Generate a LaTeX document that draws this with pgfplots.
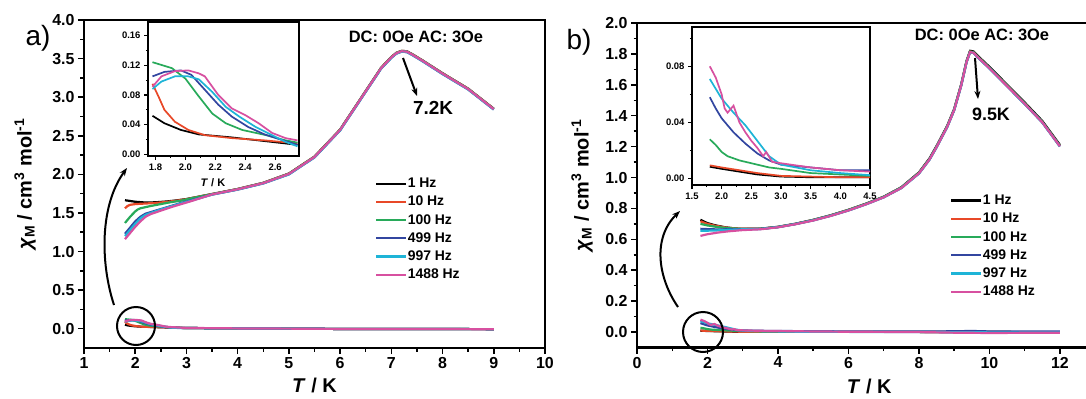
\documentclass[border=0pt]{standalone}
\usepackage{pgfplots}
\pgfplotsset{compat=1.18}
\usepackage{fontspec}
\setmainfont{Liberation Sans}
\usetikzlibrary{arrows.meta}
\definecolor{cA}{RGB}{0,0,0}
\definecolor{cB}{RGB}{232,72,40}
\definecolor{cC}{RGB}{40,170,90}
\definecolor{cD}{RGB}{50,70,160}
\definecolor{cE}{RGB}{30,180,215}
\definecolor{cF}{RGB}{215,80,160}
\newcommand{\fs}[1]{\fontsize{#1}{#1}\selectfont}
\newcommand{\ylab}{\textit{χ}\textsubscript{M} / cm\textsuperscript{3} mol\textsuperscript{-1}}
\pgfplotsset{
  mainax/.style={
    scale only axis, anchor=south west,
    axis line style={line width=2.2bp},
    tick align=outside, xtick pos=bottom, ytick pos=left,
    major tick length=6bp, minor tick length=3.5bp,
    every tick/.style={line width=1.5bp, black},
    tick label style={font=\bfseries\fs{16}},
    /pgf/number format/assume math mode=true,
    every axis plot/.append style={line width=2.2bp},
    legend style={draw=none, fill=none, anchor=north west, font=\bfseries\fs{14},
      row sep=6bp, inner sep=0pt, column sep=0bp, nodes={inner sep=0.5bp}},
    legend cell align=left,
    legend image code/.code={\draw[line width=2.2bp] (0bp,0bp) -- (30bp,0bp);},
  },
  insetax/.style={
    scale only axis, anchor=south west,
    axis background/.style={fill=white},
    axis line style={line width=1.6bp},
    tick align=outside, xtick pos=bottom, ytick pos=left,
    major tick length=4bp, minor tick length=2.2bp,
    every tick/.style={line width=1.1bp, black},
    tick label style={font=\bfseries\fs{9.5}},
    /pgf/number format/assume math mode=true,
    every axis plot/.append style={line width=1.7bp},
  },
}
\begin{document}
\begin{tikzpicture}
\useasboundingbox (0,0) rectangle (1086bp,-399bp);
% ---------------- panel a main ----------------
\begin{axis}[mainax, at={(84bp,-348bp)}, width=461bp, height=328bp,
  xmin=1, xmax=10, ymin=-0.25, ymax=4.0,
  xtick={1,...,10}, minor x tick num=1,
  ytick={0,0.5,...,4.0}, minor y tick num=1,
  yticklabel style={/pgf/number format/.cd,fixed,fixed zerofill,precision=1},
  xlabel={\textit{T} / K},
  ylabel={\ylab},
  every axis x label/.style={at={(axis description cs:0.5,-0.113)},anchor=center,font=\bfseries\fs{20}},
  every axis y label/.style={at={(axis description cs:-0.128,0.5)},rotate=90,anchor=center,font=\bfseries\fs{20}},
  legend style={at={(axis description cs:0.631,0.52)}},
]
% chi'' (forget plot)
\addplot[cA,forget plot] coordinates {(1.8,0.052)(1.86,0.042)(1.97,0.033)(2.09,0.027)(2.31,0.023)(2.53,0.018)(2.75,0.013)(3,0.009)(4,0.004)(5,0.001)(6,-0.003)(7,-0.004)(8,-0.004)(9,-0.006)};
\addplot[cB,forget plot] coordinates {(1.8,0.095)(1.82,0.078)(1.86,0.060)(1.93,0.044)(2.02,0.033)(2.13,0.026)(2.31,0.022)(2.53,0.019)(2.75,0.015)(3,0.009)(4,0.004)(5,0.001)(6,-0.003)(7,-0.004)(8,-0.004)(9,-0.006)};
\addplot[cC,forget plot] coordinates {(1.8,0.124)(1.91,0.116)(2.0,0.102)(2.09,0.078)(2.18,0.055)(2.27,0.042)(2.38,0.033)(2.54,0.026)(2.67,0.019)(2.75,0.016)(3,0.009)(4,0.004)(5,0.001)(6,-0.003)(7,-0.004)(8,-0.004)(9,-0.006)};
\addplot[cD,forget plot] coordinates {(1.8,0.105)(1.86,0.111)(1.97,0.113)(2.04,0.107)(2.13,0.087)(2.22,0.067)(2.31,0.051)(2.42,0.037)(2.53,0.027)(2.67,0.018)(2.75,0.013)(3,0.009)(4,0.004)(5,0.001)(6,-0.003)(7,-0.004)(8,-0.004)(9,-0.006)};
\addplot[cE,forget plot] coordinates {(1.8,0.088)(1.84,0.098)(1.93,0.105)(2.02,0.105)(2.09,0.101)(2.18,0.084)(2.27,0.064)(2.36,0.051)(2.47,0.037)(2.58,0.026)(2.67,0.017)(2.75,0.011)(3,0.009)(4,0.004)(5,0.001)(6,-0.003)(7,-0.004)(8,-0.004)(9,-0.006)};
\addplot[cF,forget plot] coordinates {(1.8,0.091)(1.84,0.105)(1.93,0.112)(2.02,0.113)(2.09,0.109)(2.13,0.105)(2.22,0.080)(2.31,0.062)(2.40,0.053)(2.49,0.042)(2.58,0.029)(2.67,0.022)(2.75,0.019)(3,0.010)(4,0.004)(5,0.001)(6,-0.003)(7,-0.004)(8,-0.004)(9,-0.007)};
% chi'
\addplot[cA] coordinates {(1.8,1.665)(1.9,1.655)(2.0,1.645)(2.2,1.635)(2.4,1.638)(2.6,1.648)(2.8,1.662)(3.0,1.68)(3.5,1.745)(4.0,1.81)(4.5,1.89)(5.0,2.01)(5.5,2.23)(6.0,2.58)(6.5,3.08)(6.8,3.38)(7.0,3.52)(7.1,3.575)(7.2,3.60)(7.3,3.595)(7.4,3.56)(7.6,3.48)(8.0,3.31)(8.5,3.11)(9.0,2.85)};
\addlegendentry{1 Hz}
\addplot[cB] coordinates {(1.8,1.56)(1.85,1.59)(1.9,1.605)(2.0,1.615)(2.2,1.622)(2.4,1.63)(2.6,1.642)(2.8,1.658)(3.0,1.678)(3.5,1.745)(4.0,1.81)(4.5,1.89)(5.0,2.01)(5.5,2.23)(6.0,2.58)(6.5,3.08)(6.8,3.38)(7.0,3.52)(7.1,3.575)(7.2,3.60)(7.3,3.595)(7.4,3.56)(7.6,3.48)(8.0,3.31)(8.5,3.11)(9.0,2.85)};
\addlegendentry{10 Hz}
\addplot[cC] coordinates {(1.8,1.37)(1.9,1.45)(2.0,1.52)(2.05,1.545)(2.1,1.56)(2.3,1.59)(2.5,1.615)(2.7,1.64)(2.9,1.66)(3.1,1.69)(3.5,1.743)(4.0,1.808)(4.5,1.888)(5.0,2.008)(5.5,2.228)(6.0,2.578)(6.5,3.078)(6.8,3.378)(7.0,3.518)(7.1,3.573)(7.2,3.598)(7.3,3.593)(7.4,3.558)(7.6,3.478)(8.0,3.308)(8.5,3.108)(9.0,2.848)};
\addlegendentry{100 Hz}
\addplot[cD] coordinates {(1.8,1.23)(1.9,1.31)(2.0,1.39)(2.1,1.45)(2.2,1.49)(2.3,1.51)(2.5,1.55)(2.7,1.59)(2.9,1.63)(3.1,1.665)(3.5,1.738)(4.0,1.803)(4.5,1.883)(5.0,2.0)(5.5,2.22)(6.0,2.57)(6.5,3.07)(6.8,3.37)(7.0,3.51)(7.1,3.565)(7.2,3.59)(7.3,3.585)(7.4,3.55)(7.6,3.47)(8.0,3.30)(8.5,3.10)(9.0,2.84)};
\addlegendentry{499 Hz}
\addplot[cE] coordinates {(1.8,1.20)(1.9,1.28)(2.0,1.36)(2.1,1.43)(2.2,1.475)(2.3,1.50)(2.5,1.545)(2.7,1.585)(2.9,1.625)(3.1,1.66)(3.5,1.738)(4.0,1.803)(4.5,1.883)(5.0,2.0)(5.5,2.22)(6.0,2.57)(6.5,3.07)(6.8,3.37)(7.0,3.51)(7.1,3.565)(7.2,3.59)(7.3,3.585)(7.4,3.55)(7.6,3.47)(8.0,3.30)(8.5,3.10)(9.0,2.84)};
\addlegendentry{997 Hz}
\addplot[cF] coordinates {(1.8,1.16)(1.9,1.24)(2.0,1.32)(2.1,1.39)(2.2,1.45)(2.3,1.485)(2.5,1.53)(2.7,1.575)(2.9,1.615)(3.1,1.655)(3.5,1.74)(4.0,1.806)(4.5,1.886)(5.0,2.005)(5.5,2.225)(6.0,2.575)(6.5,3.075)(6.8,3.375)(7.0,3.515)(7.1,3.57)(7.2,3.595)(7.3,3.59)(7.4,3.555)(7.6,3.475)(8.0,3.305)(8.5,3.105)(9.0,2.845)};
\addlegendentry{1488 Hz}
\end{axis}
% ---------------- panel a inset ----------------
\begin{axis}[insetax, at={(148bp,-156bp)}, width=151bp, height=134bp,
  xmin=1.75, xmax=2.76, ymin=-0.002, ymax=0.178,
  xtick={1.8,2.0,...,2.61}, minor x tick num=1,
  ytick={0,0.04,...,0.161}, minor y tick num=1,
  xticklabel style={/pgf/number format/.cd,fixed,fixed zerofill,precision=1},
  yticklabel style={/pgf/number format/.cd,fixed,fixed zerofill,precision=2},
  xlabel={\textit{T} / K},
  every axis x label/.style={at={(axis description cs:0.43,-0.2)},anchor=center,font=\bfseries\fs{11}},
]
\addplot[cA] coordinates {(1.78,0.052)(1.86,0.042)(1.97,0.033)(2.09,0.027)(2.31,0.023)(2.53,0.018)(2.75,0.013)};
\addplot[cB] coordinates {(1.78,0.095)(1.82,0.078)(1.86,0.060)(1.93,0.044)(2.02,0.033)(2.13,0.026)(2.31,0.022)(2.53,0.019)(2.75,0.015)};
\addplot[cC] coordinates {(1.78,0.124)(1.91,0.116)(2.0,0.102)(2.09,0.078)(2.18,0.055)(2.27,0.042)(2.38,0.033)(2.54,0.026)(2.67,0.019)(2.75,0.016)};
\addplot[cD] coordinates {(1.78,0.105)(1.86,0.111)(1.97,0.113)(2.04,0.107)(2.13,0.087)(2.22,0.067)(2.31,0.051)(2.42,0.037)(2.53,0.027)(2.67,0.018)(2.75,0.013)};
\addplot[cE] coordinates {(1.78,0.088)(1.84,0.098)(1.93,0.105)(2.02,0.105)(2.09,0.101)(2.18,0.084)(2.27,0.064)(2.36,0.051)(2.47,0.037)(2.58,0.026)(2.67,0.017)(2.75,0.011)};
\addplot[cF] coordinates {(1.78,0.091)(1.84,0.105)(1.93,0.112)(2.02,0.113)(2.09,0.109)(2.13,0.105)(2.22,0.080)(2.31,0.062)(2.40,0.053)(2.49,0.042)(2.58,0.029)(2.67,0.022)(2.75,0.019)};
\end{axis}
% ---------------- panel b main ----------------
\begin{axis}[mainax, at={(637bp,-347.5bp)}, width=451bp, height=324.5bp,
  xmin=0, xmax=12.797, ymin=-0.1, ymax=2.0,
  xtick={0,2,...,12}, minor x tick num=1,
  ytick={0,0.2,...,2.01}, minor y tick num=1,
  yticklabel style={/pgf/number format/.cd,fixed,fixed zerofill,precision=1},
  xlabel={\textit{T} / K},
  ylabel={\ylab},
  every axis x label/.style={at={(axis description cs:0.515,-0.12)},anchor=center,font=\bfseries\fs{20}},
  every axis y label/.style={at={(axis description cs:-0.122,0.5)},rotate=90,anchor=center,font=\bfseries\fs{20}},
  legend style={at={(axis description cs:0.694,0.472)}},
]
\addplot[cA,forget plot] coordinates {(1.8,0.0085)(2.0,0.007)(2.3,0.005)(2.6,0.003)(3.0,0.0015)(4.5,0.001)(6,0.001)(8,0.001)(10,0.0)(12,-0.001)};
\addplot[cB,forget plot] coordinates {(1.8,0.0095)(2.0,0.008)(2.3,0.006)(2.6,0.004)(3.0,0.002)(4.5,0.001)(6,0.001)(8,0.001)(10,0.0)(12,-0.001)};
\addplot[cC,forget plot] coordinates {(1.8,0.028)(1.9,0.024)(2.0,0.019)(2.1,0.016)(2.3,0.013)(2.5,0.011)(2.8,0.008)(3.0,0.007)(3.5,0.004)(4.5,0.002)(6,0.001)(8,0.001)(10,0.0)(12,-0.001)};
\addplot[cD,forget plot] coordinates {(1.8,0.058)(1.9,0.050)(2.0,0.043)(2.2,0.033)(2.4,0.025)(2.6,0.018)(2.8,0.013)(3.0,0.010)(3.5,0.008)(4.5,0.006)(6,0.004)(8,0.003)(9,0.005)(9.5,0.007)(10,0.004)(11,0.004)(12,0.003)};
\addplot[cE,forget plot] coordinates {(1.8,0.071)(1.9,0.064)(2.0,0.057)(2.2,0.047)(2.4,0.038)(2.6,0.027)(2.8,0.016)(3.0,0.010)(3.5,0.006)(4.5,0.0025)(6,0.001)(8,0.0)(10,-0.002)(12,-0.002)};
\addplot[cF,forget plot] coordinates {(1.8,0.080)(1.9,0.072)(2.0,0.060)(2.05,0.050)(2.1,0.047)(2.2,0.052)(2.3,0.040)(2.4,0.033)(2.5,0.027)(2.6,0.022)(2.7,0.016)(2.75,0.019)(2.85,0.012)(3.0,0.011)(3.5,0.008)(4.5,0.005)(6,0.002)(8,0.0)(9,-0.004)(10,-0.006)(11,-0.005)(12,-0.005)};
\addplot[cA] coordinates {(1.8,0.727)(1.9,0.715)(2.0,0.705)(2.2,0.692)(2.5,0.678)(2.8,0.670)(3.0,0.668)(3.5,0.669)(4.0,0.681)(4.5,0.701)(5.0,0.726)(5.5,0.756)(6.0,0.791)(6.5,0.831)(7.0,0.876)(7.5,0.937)(8.0,1.033)(8.3,1.124)(8.5,1.204)(8.8,1.334)(9.0,1.444)(9.2,1.604)(9.35,1.754)(9.45,1.82)(9.55,1.816)(9.7,1.781)(10.0,1.716)(10.5,1.601)(11.0,1.486)(11.5,1.366)(12.0,1.211)};
\addlegendentry{1 Hz}
\addplot[cB] coordinates {(1.8,0.717)(1.9,0.708)(2.0,0.700)(2.2,0.689)(2.5,0.677)(2.8,0.670)(3.0,0.668)(3.5,0.668)(4.0,0.680)(4.5,0.700)(5.0,0.725)(5.5,0.755)(6.0,0.790)(6.5,0.830)(7.0,0.875)(7.5,0.935)(8.0,1.030)(8.3,1.120)(8.5,1.200)(8.8,1.330)(9.0,1.440)(9.2,1.600)(9.35,1.750)(9.45,1.815)(9.55,1.810)(9.7,1.775)(10.0,1.710)(10.5,1.595)(11.0,1.480)(11.5,1.360)(12.0,1.205)};
\addlegendentry{10 Hz}
\addplot[cC] coordinates {(1.8,0.700)(2.0,0.690)(2.3,0.679)(2.6,0.672)(3.0,0.667)(3.5,0.668)(4.0,0.680)(4.5,0.700)(5.0,0.725)(5.5,0.755)(6.0,0.790)(6.5,0.830)(7.0,0.875)(7.5,0.935)(8.0,1.030)(8.3,1.120)(8.5,1.200)(8.8,1.330)(9.0,1.440)(9.2,1.600)(9.35,1.750)(9.45,1.815)(9.55,1.810)(9.7,1.775)(10.0,1.710)(10.5,1.595)(11.0,1.480)(11.5,1.360)(12.0,1.205)};
\addlegendentry{100 Hz}
\addplot[cD] coordinates {(1.8,0.668)(2.0,0.666)(2.3,0.664)(2.6,0.665)(3.0,0.666)(3.5,0.667)(4.0,0.679)(4.5,0.699)(5.0,0.723)(5.5,0.753)(6.0,0.787)(6.5,0.827)(7.0,0.872)(7.5,0.932)(8.0,1.026)(8.3,1.116)(8.5,1.196)(8.8,1.326)(9.0,1.436)(9.2,1.596)(9.35,1.746)(9.45,1.811)(9.55,1.806)(9.7,1.771)(10.0,1.706)(10.5,1.591)(11.0,1.476)(11.5,1.356)(12.0,1.201)};
\addlegendentry{499 Hz}
\addplot[cE] coordinates {(1.8,0.655)(2.0,0.656)(2.3,0.658)(2.6,0.662)(3.0,0.665)(3.5,0.667)(4.0,0.679)(4.5,0.699)(5.0,0.723)(5.5,0.753)(6.0,0.787)(6.5,0.827)(7.0,0.872)(7.5,0.932)(8.0,1.026)(8.3,1.116)(8.5,1.196)(8.8,1.326)(9.0,1.436)(9.2,1.596)(9.35,1.746)(9.45,1.811)(9.55,1.806)(9.7,1.771)(10.0,1.706)(10.5,1.591)(11.0,1.476)(11.5,1.356)(12.0,1.201)};
\addlegendentry{997 Hz}
\addplot[cF] coordinates {(1.8,0.622)(1.9,0.628)(2.0,0.633)(2.3,0.644)(2.6,0.652)(3.0,0.660)(3.5,0.665)(4.0,0.678)(4.5,0.698)(5.0,0.722)(5.5,0.752)(6.0,0.787)(6.5,0.827)(7.0,0.872)(7.5,0.932)(8.0,1.027)(8.3,1.117)(8.5,1.197)(8.8,1.327)(9.0,1.437)(9.2,1.597)(9.35,1.747)(9.45,1.812)(9.55,1.807)(9.7,1.772)(10.0,1.707)(10.5,1.592)(11.0,1.477)(11.5,1.357)(12.0,1.202)};
\addlegendentry{1488 Hz}
\end{axis}
% ---------------- panel b inset ----------------
\begin{axis}[insetax, at={(692bp,-185bp)}, width=178bp, height=158bp,
  xmin=1.5, xmax=4.5, ymin=-0.0045, ymax=0.108,
  xtick={1.5,2.0,...,4.51}, minor x tick num=1,
  ytick={0,0.04,0.08}, minor ytick={0.02,0.06,0.10},
  xticklabel style={/pgf/number format/.cd,fixed,fixed zerofill,precision=1},
  yticklabel style={/pgf/number format/.cd,fixed,fixed zerofill,precision=2},
]
\addplot[cA] coordinates {(1.8,0.0085)(2.0,0.007)(2.3,0.005)(2.6,0.003)(3.0,0.0015)(3.5,0.001)(4.0,0.001)(4.5,0.001)};
\addplot[cB] coordinates {(1.8,0.0095)(2.0,0.008)(2.3,0.006)(2.6,0.004)(3.0,0.002)(3.5,0.0015)(4.0,0.001)(4.5,0.001)};
\addplot[cC] coordinates {(1.8,0.028)(1.9,0.024)(2.0,0.019)(2.1,0.016)(2.3,0.013)(2.5,0.011)(2.8,0.008)(3.0,0.007)(3.5,0.004)(4.0,0.003)(4.5,0.002)};
\addplot[cD] coordinates {(1.8,0.058)(1.9,0.050)(2.0,0.043)(2.2,0.033)(2.4,0.025)(2.6,0.018)(2.8,0.013)(3.0,0.010)(3.5,0.008)(4.0,0.006)(4.5,0.006)};
\addplot[cE] coordinates {(1.8,0.071)(1.9,0.064)(2.0,0.057)(2.2,0.047)(2.4,0.038)(2.6,0.027)(2.8,0.016)(3.0,0.010)(3.5,0.006)(4.0,0.004)(4.5,0.0025)};
\addplot[cF] coordinates {(1.8,0.080)(1.9,0.072)(2.0,0.060)(2.05,0.050)(2.1,0.047)(2.2,0.052)(2.3,0.040)(2.4,0.033)(2.5,0.027)(2.6,0.022)(2.7,0.016)(2.75,0.019)(2.85,0.012)(3.0,0.011)(3.5,0.008)(4.0,0.006)(4.5,0.005)};
\end{axis}
% ---------------- annotations ----------------
\fill[black] (636bp,-24.3bp) rectangle (1086bp,-21.7bp);
\node[inner sep=0pt, anchor=south west] at (636bp,-24.3bp) {\rule{450bp}{2.6bp}};
\node[font=\fs{28}] at (38bp,-38bp) {a)};
\node[font=\fs{28}] at (579bp,-42bp) {b)};
\node[font=\bfseries\fs{16.5}] at (416bp,-37bp) {DC: 0Oe AC: 3Oe};
\node[font=\bfseries\fs{16.5}] at (982bp,-35bp) {DC: 0Oe AC: 3Oe};
\node[font=\bfseries\fs{19}] at (433bp,-108bp) {7.2K};
\node[font=\bfseries\fs{18}] at (991bp,-114bp) {9.5K};
\draw[line width=2bp,-{Stealth[length=8bp,width=6bp]}] (403bp,-58bp) -- (417bp,-96bp);
\draw[line width=2bp,-{Stealth[length=8bp,width=6bp]}] (975bp,-58bp) -- (978bp,-99bp);
\draw[line width=2bp] (136bp,-326bp) circle (19bp);
\draw[line width=2bp] (703bp,-332bp) circle (20bp);
\draw[line width=2bp,-{Stealth[length=8bp,width=6bp]}] (114bp,-305bp) .. controls (100bp,-262bp) and (100bp,-205bp) .. (127bp,-168bp);
\draw[line width=2bp,-{Stealth[length=8bp,width=6bp]}] (678bp,-307bp) .. controls (658bp,-278bp) and (652bp,-238bp) .. (680bp,-211bp);
\end{tikzpicture}
\end{document}
